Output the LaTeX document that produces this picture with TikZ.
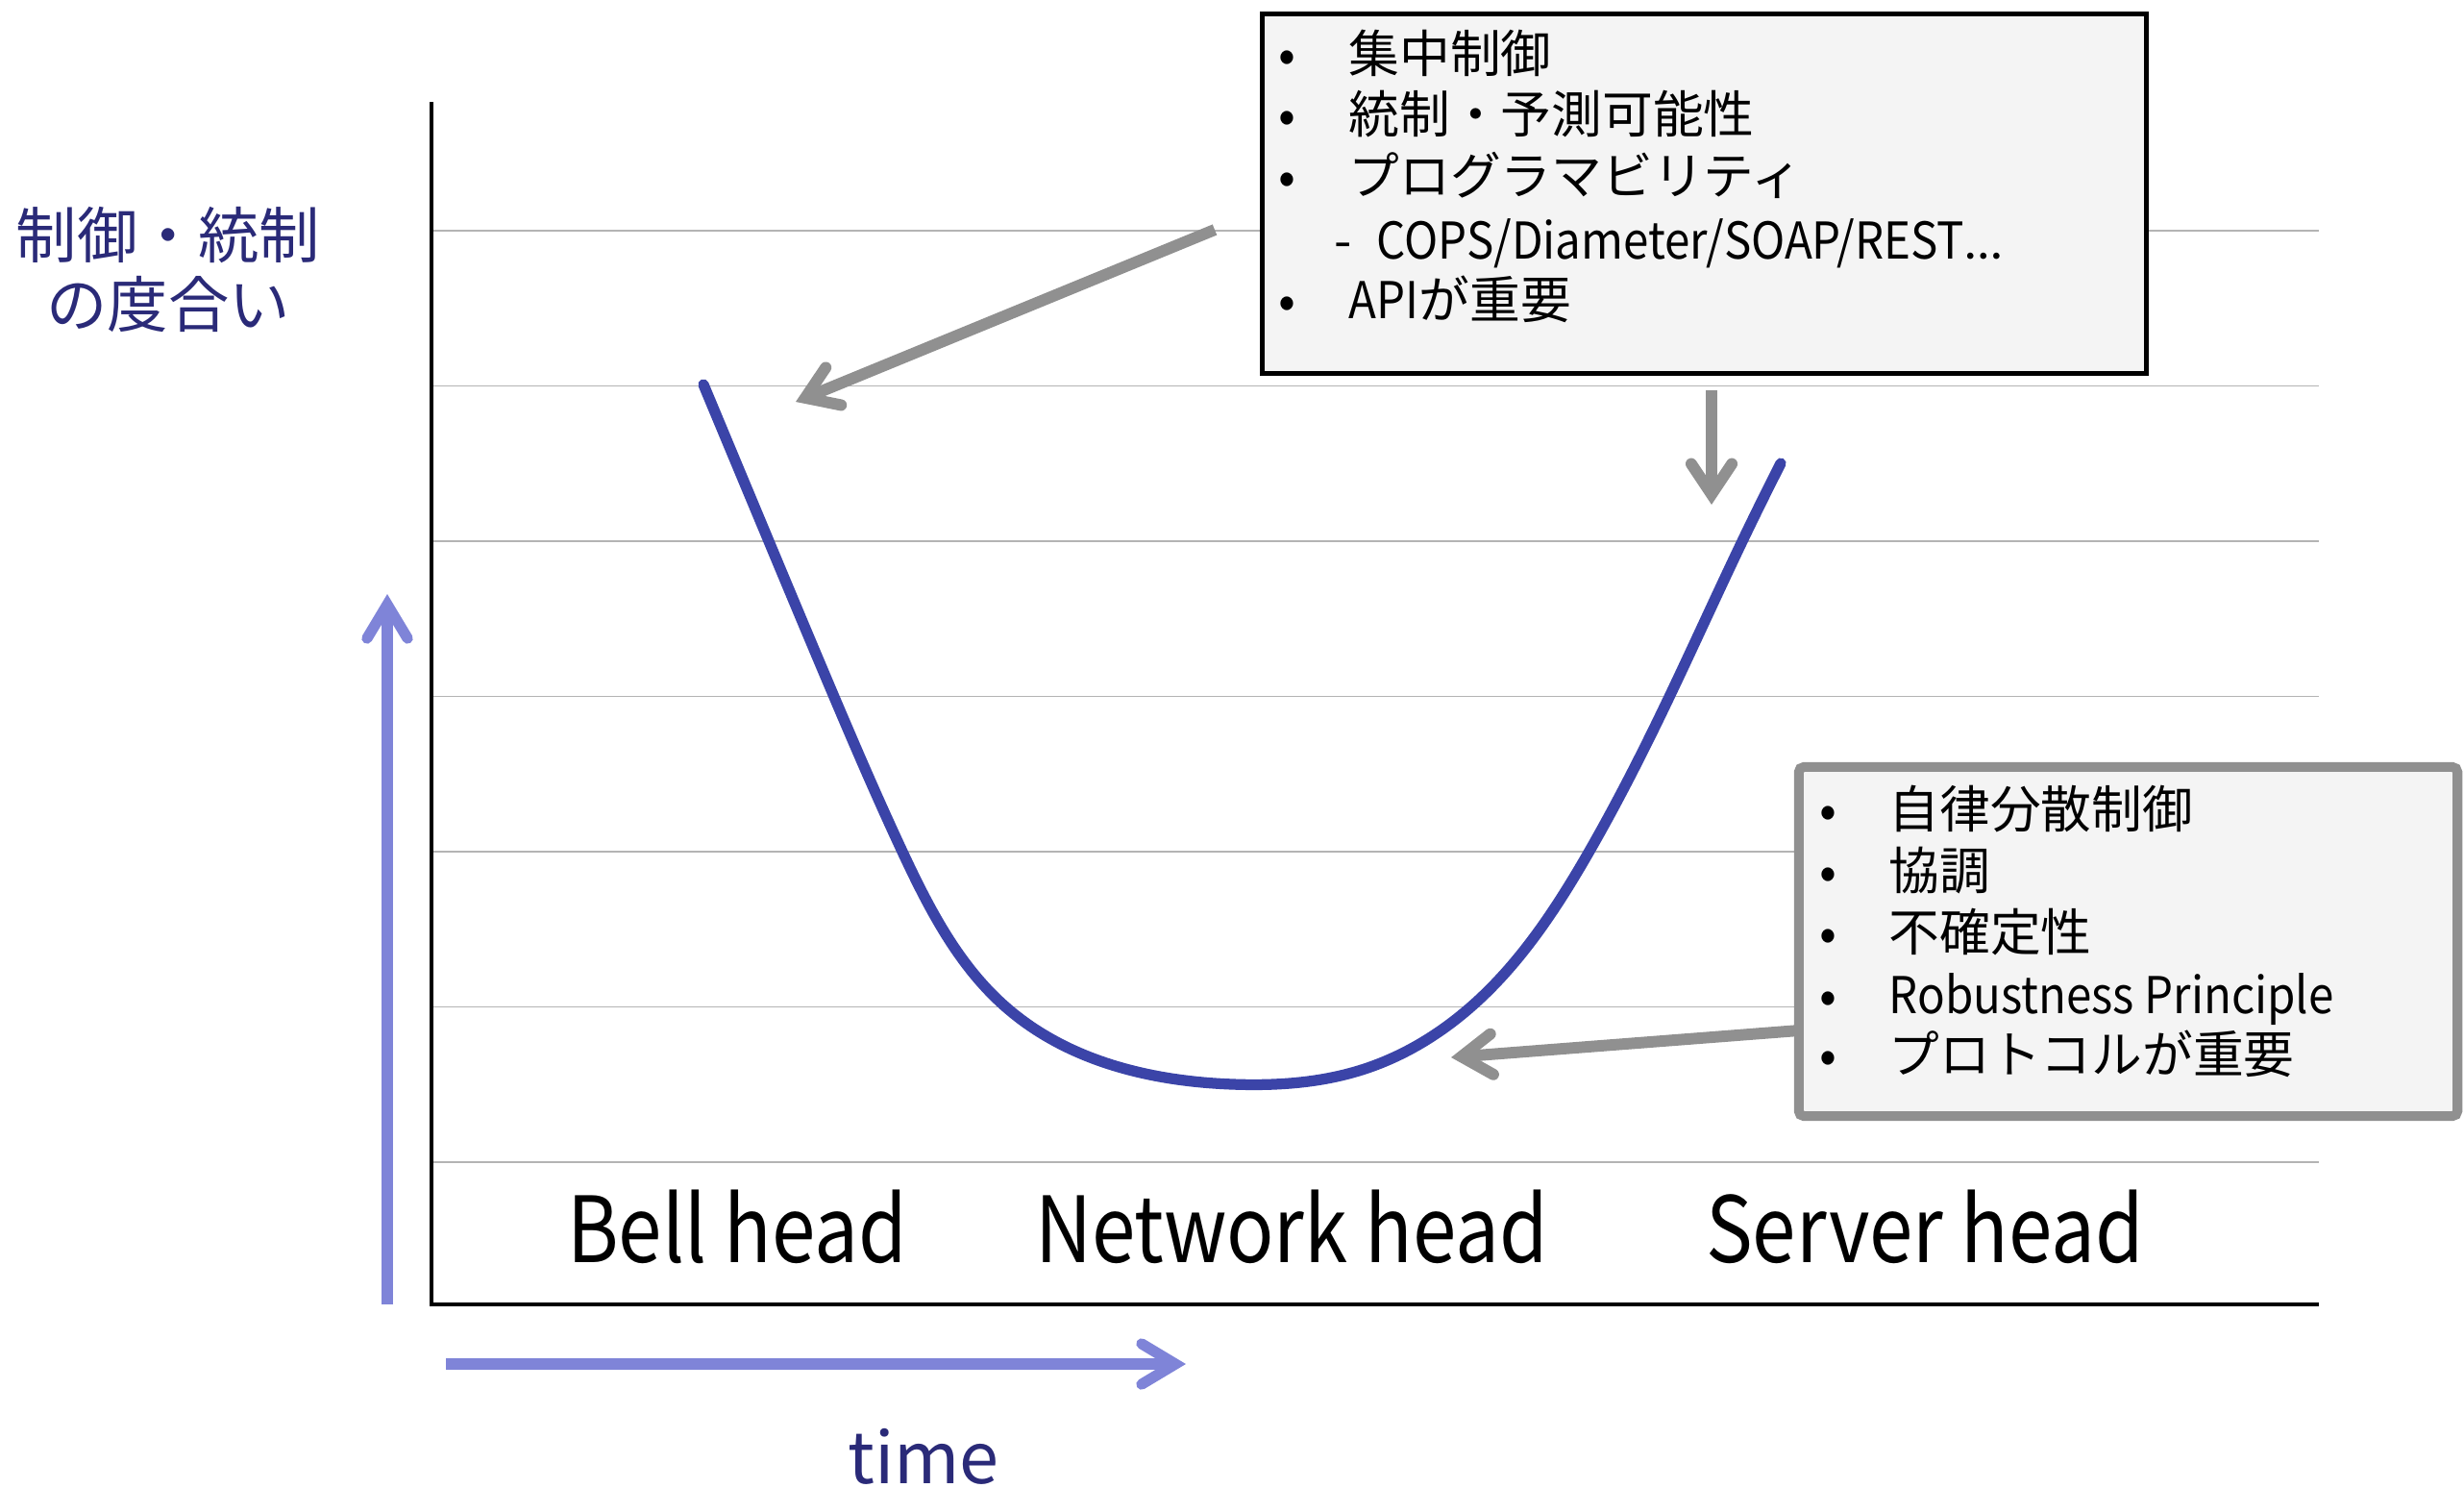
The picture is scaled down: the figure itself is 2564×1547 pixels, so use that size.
\documentclass[tikz,border=0pt]{standalone}
\usepackage{fontspec}
\setmainfont{Noto Sans CJK JP}
\newfontfamily\erafont[FakeStretch=0.86]{Noto Sans CJK JP}
\newfontfamily\latinfont[FakeStretch=0.9]{Noto Sans CJK JP}
\newfontfamily\dotsfont{Lato}
\usetikzlibrary{
  hobby,
  arrows.meta,
  positioning,
}

\definecolor{curveblue}{HTML}{3B44A8}
\definecolor{axisblue}{HTML}{7F84D8}
\definecolor{labelnavy}{HTML}{2A2A78}
\definecolor{callgray}{HTML}{909090}
\definecolor{gridgray}{HTML}{B4B4B4}
\definecolor{boxfill}{HTML}{F4F4F4}

\tikzset{
  grid line/.style={draw=gridgray, line width=0.5pt},
  axis/.style={line width=1.2pt},
  time arrow/.style={axisblue, line width=3.2pt,
    -{Straight Barb[length=10pt,width=12pt,line cap=round]}},
  callout/.style={callgray, line width=3.4pt,
    -{Straight Barb[length=9pt,width=12pt,line cap=round]}},
  curve/.style={curveblue, line width=3.2pt, line cap=round},
  era/.style={anchor=base, inner sep=0pt, font=\erafont\fontsize{27}{32}\selectfont},
  ylabel/.style={inner sep=0pt, text=labelnavy, font=\fontsize{18}{20}\selectfont},
  listbox/.style={fill=boxfill, inner sep=0pt},
  item/.style={anchor=west, inner sep=0pt, font=\fontsize{15}{18}\selectfont,
    text height=12.5pt, text depth=1.5pt},
}

\begin{document}
\begin{tikzpicture}[x=0.01cm, y=-0.01cm, use Hobby shortcut]
\useasboundingbox (0,0) rectangle (2564,1547);

% grid and axes
\foreach \i in {0,...,6}
  \draw[grid line] (449,240+\i*161.5) -- (2413,240+\i*161.5);
\draw[axis] (449,106) -- (449,1357) -- (2413,1357);

% time arrows
\coordinate (up0) at (403,1357);
\coordinate (up1) at (403,618);
\coordinate (rt0) at (464,1419);
\coordinate (rt1) at (1234,1419);
\draw[time arrow] (up0) -- (up1);
\draw[time arrow] (rt0) -- (rt1);

\node[ylabel] (ctl) at (175,245) {制御・統制};
\node[ylabel] (deg) at (175,316) {の度合い};
\node[anchor=base, inner sep=0pt, text=labelnavy, font=\fontsize{21}{24}\selectfont] (time) at (961,1543) {time};

\node[era] (bell) at (767,1313) {Bell head};
\node[era] (net) at (1344,1313) {Network head};
\node[era] (srv) at (2003,1313) {Server head};

% the U curve
\draw[curve] (732,400) .. (800,563) .. (868,725) .. (939,886) .. (1047,1048)
  .. (1283,1128) .. (1420,1112) .. (1530,1048) .. (1653,887) .. (1737,725)
  .. (1813,563) .. (1853,482);

% boxes
\node[listbox, draw=black, line width=1.4pt, minimum width=9.2cm, minimum height=3.74cm] (topbox) at (1773.5,201.5) {};
\node[listbox, draw=callgray, line width=2.85pt, rounded corners=1.5pt, minimum width=6.85cm, minimum height=3.63cm] (botbox) at (2214.5,979.5) {};

\foreach \y/\t [count=\i] in {56/集中制御, 119/統制・予測可能性, 183/プログラマビリティ, 312/{\latinfont API}が重要} {
  \node[item] (tb\i) at (1330,\y) {•};
  \node[item] (tt\i) at (1403,\y) {\t};
}
\node[item] (dash) at (1388,250) {-};
\node[item] (cops) at (1432,250) {\latinfont COPS/Diameter/SOAP/REST{\dotsfont …}};

\foreach \y/\t [count=\i] in {842/自律分散制御, 906/協調, 970/不確定性, 1035/{\latinfont Robustness Principle}, 1097/プロトコルが重要} {
  \node[item] (bb\i) at (1893,\y) {•};
  \node[item] (bt\i) at (1965,\y) {\t};
}

% callout arrows
\coordinate (c1) at (1264,239);
\coordinate (c1tip) at (828,418);
\coordinate (c2) at (1781,406);
\coordinate (c2tip) at (1781,525);
\coordinate (c3) at (1872,1072);
\coordinate (c3tip) at (1510,1100);
\draw[callout] (c1) -- (c1tip);
\draw[callout] (c2) -- (c2tip);
\draw[callout] (c3) -- (c3tip);
\end{tikzpicture}
\end{document}
